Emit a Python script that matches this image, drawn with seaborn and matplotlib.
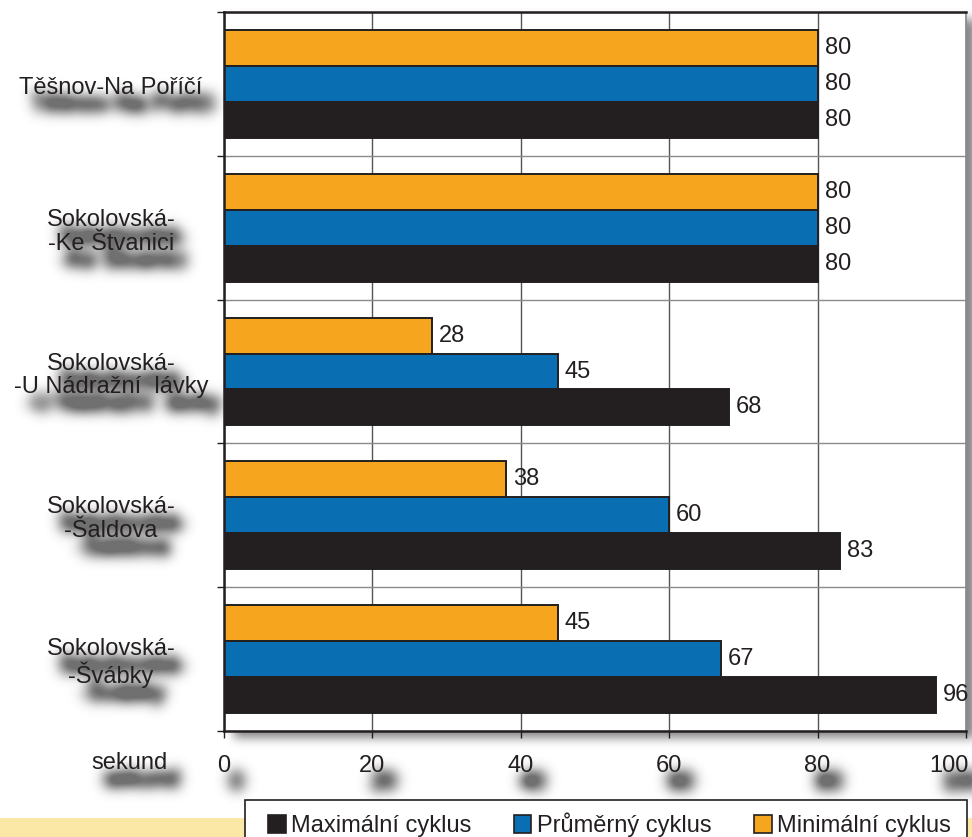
import numpy as np
import pandas as pd
import matplotlib
matplotlib.use("Agg")
import matplotlib.pyplot as plt
import matplotlib.transforms as mtransforms
from matplotlib.patches import Rectangle, Patch
import seaborn as sns

# ---- data -------------------------------------------------------------
categories = [
    "Těšnov-Na Poříčí",
    "Sokolovská-\n-Ke Štvanici",
    "Sokolovská-\n-U Nádražní  lávky",
    "Sokolovská-\n-Šaldova",
    "Sokolovská-\n-Švábky",
]
series_names = ["Maximální cyklus", "Průměrný cyklus", "Minimální cyklus"]
maximalni = [80, 80, 68, 83, 96]
prumerny = [80, 80, 45, 60, 67]
minimalni = [80, 80, 28, 38, 45]
x_ticks = [0, 20, 40, 60, 80, 100]
x_label = "sekund"

colors = {
    "Maximální cyklus": "#231F20",
    "Průměrný cyklus": "#0A6FB2",
    "Minimální cyklus": "#F6A51F",
}
INK = "#231F20"
FS = 17
LINESPACING = 1.1


# ---- gaussian blur helpers ------------------------------------------------
def blur(a, sigma):
    r = max(int(3 * sigma), 1)
    x = np.arange(-r, r + 1, dtype=float)
    k = np.exp(-x ** 2 / (2.0 * sigma ** 2))
    k /= k.sum()
    a = np.asarray(a, dtype=float)
    a = np.apply_along_axis(lambda v: np.convolve(v, k, mode="same"), 0, a)
    a = np.apply_along_axis(lambda v: np.convolve(v, k, mode="same"), 1, a)
    return a


def shift(a, dx, dy):
    """Move an image right by dx and down by dy pixels (no wrap-around)."""
    out = np.zeros_like(a)
    h, w = a.shape[:2]
    out[dy:, dx:] = a[:h - dy, :w - dx]
    return out


class DropShadow:
    """Agg filter: blurred, offset silhouette of an artist."""

    def __init__(self, sigma, dx, dy, alpha, color=(0.0, 0.0, 0.0)):
        self.sigma, self.dx, self.dy = sigma, dx, dy
        self.alpha, self.color = alpha, color

    def __call__(self, im, dpi):
        pad = int(3 * self.sigma + max(abs(self.dx), abs(self.dy))) + 2
        src = np.pad(np.asarray(im, dtype=float),
                     [(pad, pad), (pad, pad), (0, 0)], "constant")
        out = np.zeros_like(src)
        out[..., :3] = self.color
        a = blur(src[..., 3] * self.alpha, self.sigma)
        out[..., 3] = np.clip(shift(a, self.dx, self.dy), 0, 1)
        return out, -pad, -pad


# ---- figure ---------------------------------------------------------------
sns.set_style("white")
plt.rcParams["font.family"] = ["Liberation Sans", "DejaVu Sans"]

W, H = 972, 837
FIGSIZE = ((W + 0.01) / 100, (H + 0.01) / 100)
fig = plt.figure(figsize=FIGSIZE, dpi=100)
L, R, T, B = 224, 966, 12, 731
ax = fig.add_axes([L / W, 1 - B / H, (R - L) / W, (B - T) / H])

# light strip along the bottom edge
fig.add_artist(Rectangle((0, 0), 1, 19 / H, transform=fig.transFigure,
                         facecolor="#FBE8A6", edgecolor="none", zorder=-3))
# shadow cast by the plotting frame
frame_shadow = Rectangle((L / W, 1 - B / H), (R - L) / W, (B - T) / H,
                         transform=fig.transFigure, facecolor="black",
                         edgecolor="none", zorder=-1)
frame_shadow.set_agg_filter(DropShadow(sigma=5, dx=10, dy=7, alpha=0.6,
                                       color=(0.2, 0.2, 0.2)))
fig.add_artist(frame_shadow)

df = pd.DataFrame({
    "úsek": categories * 3,
    "sekund": maximalni + prumerny + minimalni,
    "cyklus": np.repeat(series_names, len(categories)),
})

hue_order = ["Minimální cyklus", "Průměrný cyklus", "Maximální cyklus"]
sns.barplot(data=df, y="úsek", x="sekund", hue="cyklus", hue_order=hue_order,
            order=categories, palette=colors, orient="h", width=0.75,
            saturation=1, edgecolor=INK, linewidth=1.4, legend=False, ax=ax,
            zorder=2)

for cont in ax.containers:
    ax.bar_label(cont, fmt="%g", padding=5, fontsize=FS, color=INK)

ax.set_xlim(0, 100)
ax.set_ylim(len(categories) - 0.5, -0.5)
ax.set_xlabel("")
ax.set_ylabel("")

# axes frame
for side in ["top", "left", "bottom"]:
    ax.spines[side].set_color(INK)
    ax.spines[side].set_linewidth(1.8)
ax.spines["right"].set_color("#8a8a8a")
ax.spines["right"].set_linewidth(1.2)

# grid: vertical at major x ticks, horizontal at category boundaries
ax.set_xticks(x_ticks)
ax.set_xticklabels([str(t) for t in x_ticks])
ax.set_yticks(range(len(categories)))
ax.set_yticks(np.arange(-0.5, len(categories)), minor=True)
ax.set_axisbelow(True)
ax.grid(axis="x", which="major", color="#555555", linewidth=1)
ax.grid(axis="y", which="minor", color="#8a8a8a", linewidth=1)
ax.grid(axis="y", which="major", visible=False)

ax.tick_params(axis="x", direction="out", length=5, width=1, color=INK,
               pad=12, labelsize=FS, labelcolor=INK, bottom=True)
ax.tick_params(axis="y", which="major", length=0, labelleft=False, left=False)
ax.tick_params(axis="y", which="minor", direction="out", length=5, width=1,
               color=INK, left=True)
# the last tick label sits flush against the right edge
last = ax.get_xticklabels()[-1]
last.set_horizontalalignment("right")
last.set_transform(last.get_transform() +
                   mtransforms.ScaledTranslation(3 / 100, 0, fig.dpi_scale_trans))

# category labels, centred in the left margin
cat_tr = mtransforms.offset_copy(
    mtransforms.blended_transform_factory(fig.transFigure, ax.transData),
    fig=fig, x=0, y=-4, units="dots")
shadow_texts = []
for i, name in enumerate(categories):
    shadow_texts.append(ax.text(111 / W, i, name, transform=cat_tr,
                                ha="center", va="center",
                                multialignment="center", fontsize=FS,
                                linespacing=LINESPACING, color=INK,
                                clip_on=False))

# axis caption
shadow_texts.append(fig.text(168 / W, 1 - 769 / H, x_label, ha="right",
                             va="baseline", fontsize=FS, color=INK))

# legend: box drawn as a plain rectangle running off the bottom edge
fig.add_artist(Rectangle((245 / W, -0.05), (967 - 245) / W, 0.05 + 1 - 800 / H,
                         transform=fig.transFigure, facecolor="white",
                         edgecolor=INK, linewidth=1.2, zorder=1))
handles = [Patch(facecolor=colors[n], edgecolor=INK, linewidth=1.2)
           for n in series_names]
leg = fig.legend(handles, series_names, loc="center left",
                 bbox_to_anchor=(268 / W, 1 - 825 / H),
                 bbox_transform=fig.transFigure, ncol=3, frameon=False,
                 fontsize=FS, handlelength=0.75, handleheight=0.75,
                 handletextpad=0.22, columnspacing=1.8, borderpad=0,
                 borderaxespad=0)
for txt in leg.get_texts():
    txt.set_color(INK)

# ---- soft shadows under the axis texts ------------------------------------
fig.canvas.draw()
shadow_texts += list(ax.get_xticklabels())
fw, fh = fig.canvas.get_width_height()

sfig = plt.figure(figsize=FIGSIZE, dpi=100)
sfig.patch.set_alpha(0)
for t in shadow_texts:
    px, py = t.get_transform().transform(t.get_position())
    sfig.text(px / fw, py / fh, t.get_text(), ha=t.get_horizontalalignment(),
              va=t.get_verticalalignment(), multialignment="center",
              fontsize=t.get_fontsize(), linespacing=LINESPACING,
              color="black")
sfig.canvas.draw()
cover = np.asarray(sfig.canvas.buffer_rgba())[..., 3].astype(float) / 255.0
plt.close(sfig)

SH_SIGMA, SH_DX, SH_DY, SH_ALPHA = 6.5, 12, 17, 3.2
soft = shift(blur(cover, SH_SIGMA) * SH_ALPHA, SH_DX, SH_DY)
shadow_img = np.zeros(soft.shape + (4,))
shadow_img[..., :3] = 0.3
shadow_img[..., 3] = np.clip(soft, 0, 0.8)
fig.figimage(shadow_img, xo=0, yo=0, origin="upper", zorder=-0.5)

fig.savefig("out.png", dpi=100)
